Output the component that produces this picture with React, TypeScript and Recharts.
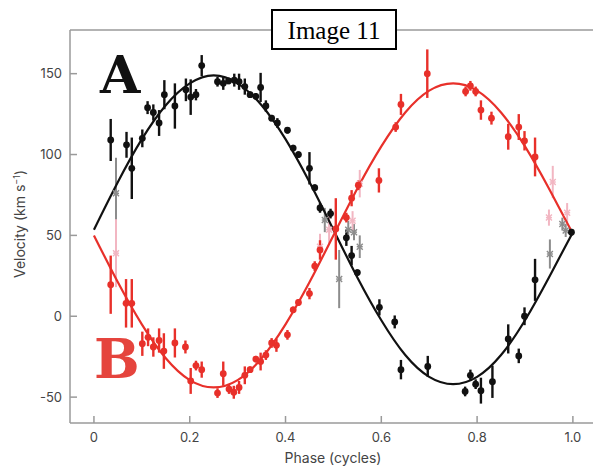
import React from "react";
import {
  ComposedChart,
  Line,
  Scatter,
  ErrorBar,
  XAxis,
  YAxis,
  ReferenceLine,
} from "recharts";

// fitted curves, every 0.05 in phase
const curvePhase = [
  0, 0.05, 0.1, 0.15, 0.2, 0.25, 0.3, 0.35, 0.4, 0.45, 0.5, 0.55, 0.6, 0.65,
  0.7, 0.75, 0.8, 0.85, 0.9, 0.95, 1.0,
];
const curveA = [
  53.5, 83, 109.5, 130.5, 144, 149, 144, 130.5, 109.5, 83, 53.5, 24, -2.5,
  -24, -37.5, -42, -37.5, -24, -2.5, 24, 52,
];
const curveB = [
  50, 21, -5, -26, -39.5, -44, -39.5, -26, -5, 21, 50, 79, 105, 126, 139.5,
  144, 139.5, 126, 105, 79, 51,
];

// measured points: [phase, velocity, error]
const pointsA = [
  [0.035, 109, 13], [0.068, 106, 8], [0.079, 91.5, 19], [0.101, 110, 5.5],
  [0.112, 129, 4], [0.124, 126, 5], [0.136, 119.5, 8], [0.147, 137, 9],
  [0.169, 130, 14], [0.192, 140, 7], [0.202, 135.5, 11], [0.213, 137, 3.5],
  [0.225, 155, 6.5], [0.258, 145, 3], [0.27, 144, 4], [0.281, 145.5, 2],
  [0.293, 146, 4], [0.303, 145, 5], [0.315, 142, 5], [0.326, 137, 2],
  [0.338, 136, 2], [0.348, 141.5, 9], [0.359, 130, 3.5], [0.371, 122.5, 2],
  [0.383, 119.5, 3], [0.404, 115, 2], [0.416, 104, 2], [0.427, 100, 2],
  [0.45, 91.5, 10], [0.461, 79.5, 2], [0.472, 67, 3], [0.494, 63.5, 3],
  [0.527, 48.5, 5], [0.538, 37.5, 6], [0.55, 27, 2], [0.596, 5.5, 5],
  [0.628, -3.5, 4], [0.641, -33, 6], [0.697, -31, 6.5], [0.775, -46.5, 3],
  [0.786, -36.5, 3.5], [0.797, -42, 3], [0.808, -46, 8], [0.832, -40.5, 10],
  [0.865, -14, 9], [0.887, -24.5, 4.5], [0.899, 0, 5.5], [0.921, 22.5, 13],
  [0.997, 52, 2],
];
const pointsB = [
  [0.035, 19.5, 18], [0.067, 8, 15], [0.079, 8, 15], [0.101, -17, 7.5],
  [0.113, -13, 5.5], [0.124, -19, 6], [0.136, -15, 7.5], [0.146, -21.5, 11],
  [0.169, -16.5, 9], [0.191, -19, 4], [0.202, -40, 8], [0.213, -30.5, 3],
  [0.225, -33, 5], [0.258, -47.5, 3], [0.27, -35.5, 7.5], [0.282, -45, 3],
  [0.292, -47, 4], [0.303, -44, 4], [0.315, -36.5, 5.5], [0.326, -33, 2],
  [0.338, -26.5, 2], [0.348, -28, 5.5], [0.359, -24, 3], [0.371, -16.5, 3],
  [0.381, -18, 4], [0.404, -11.5, 3], [0.416, 4, 2], [0.427, 8.5, 2],
  [0.45, 14, 3.5], [0.461, 31, 3], [0.472, 41, 6], [0.505, 54, 19],
  [0.527, 61, 3], [0.538, 73, 5], [0.552, 81, 3], [0.595, 84, 7.5],
  [0.63, 117, 3], [0.641, 131, 6.5], [0.696, 150, 15], [0.776, 139, 3],
  [0.786, 142.5, 3], [0.797, 139, 3], [0.808, 127.5, 6], [0.83, 122.5, 4],
  [0.865, 111, 8], [0.887, 117, 8], [0.899, 108.5, 6], [0.921, 98.5, 12],
];
const pointsGray = [
  [0.046, 76, 22], [0.482, 59.5, 7.5], [0.512, 23, 18], [0.531, 53.5, 5.5],
  [0.543, 52, 5], [0.555, 43, 7], [0.952, 38.5, 9], [0.978, 57, 4],
  [0.985, 53, 4],
];
const pointsPink = [
  [0.046, 39, 21], [0.472, 43, 8], [0.491, 53.5, 8.5], [0.54, 59, 6],
  [0.555, 82, 8.5], [0.95, 61, 5], [0.958, 83, 10], [0.988, 64, 6],
];

const xTicks = [0, 0.2, 0.4, 0.6, 0.8, 1.0];
const yTicks = [-50, 0, 50, 100, 150];

const W = 595;
const H = 470;
const X_DOMAIN = [-0.05, 1.042];
const Y_DOMAIN = [-66, 177];

const BLACK = "#111111";
const RED = "#e8302a";
const GRAY = "#8c8c8c";
const PINK = "#f2b6c2";
const AXIS = "#9a9a9a";
const FONT = "Inter, 'Noto Sans', sans-serif";

const toCurve = (ys: number[]) => curvePhase.map((x, i) => ({ x, y: ys[i] }));
const toPts = (rows: number[][]) => rows.map(([x, y, e]) => ({ x, y, e }));

const dot = (color: string) => (p: any) =>
  <circle cx={p.cx} cy={p.cy} r={3.4} fill={color} />;

const cross = (color: string) => (p: any) => (
  <g stroke={color} strokeWidth={1.4}>
    <line x1={p.cx - 3} x2={p.cx + 3} y1={p.cy - 3} y2={p.cy + 3} />
    <line x1={p.cx - 3} x2={p.cx + 3} y1={p.cy + 3} y2={p.cy - 3} />
    <line x1={p.cx - 3} x2={p.cx + 3} y1={p.cy} y2={p.cy} />
  </g>
);

const YTick = (p: any) => {
  const ax = p.x + 8;
  return (
    <g>
      <line x1={ax} x2={ax + 7} y1={p.y} y2={p.y} stroke={AXIS} strokeWidth={1.5} />
      <text x={p.x} y={p.y} dy={4.5} textAnchor="end" fontSize={13} fill="#444" fontFamily={FONT}>
        {p.payload.value}
      </text>
    </g>
  );
};

const XTick = (p: any) => {
  const v = p.payload.value;
  return (
    <g>
      <line x1={p.x} x2={p.x} y1={p.y} y2={p.y - 7} stroke={AXIS} strokeWidth={1.5} />
      <text x={p.x} y={p.y + 19} textAnchor="middle" fontSize={13} fill="#444" fontFamily={FONT}>
        {v === 0 ? "0" : v.toFixed(1)}
      </text>
    </g>
  );
};

export default function App() {
  return (
    <div style={{ position: "absolute", left: 0, top: 0, width: W, height: H, background: "#fff", overflow: "hidden" }}>
      <ComposedChart width={W} height={H} margin={{ top: 30, right: 2, bottom: 0, left: 0 }}>
        <XAxis
          type="number"
          dataKey="x"
          domain={X_DOMAIN}
          ticks={xTicks}
          allowDataOverflow
          height={47}
          tickSize={0}
          tickMargin={0}
          tickLine={false}
          axisLine={{ stroke: AXIS, strokeWidth: 1.5 }}
          tick={<XTick />}
        />
        <YAxis
          type="number"
          dataKey="y"
          domain={Y_DOMAIN}
          ticks={yTicks}
          allowDataOverflow
          width={70}
          tickSize={0}
          tickMargin={8}
          tickLine={false}
          axisLine={{ stroke: AXIS, strokeWidth: 1.5 }}
          tick={<YTick />}
        />
        <ReferenceLine y={Y_DOMAIN[1]} stroke={AXIS} strokeWidth={1.5} />

        <Scatter data={toPts(pointsGray)} shape={cross(GRAY)} isAnimationActive={false}>
          <ErrorBar dataKey="e" direction="y" width={0} stroke={GRAY} strokeWidth={2} />
        </Scatter>
        <Scatter data={toPts(pointsPink)} shape={cross(PINK)} isAnimationActive={false}>
          <ErrorBar dataKey="e" direction="y" width={0} stroke={PINK} strokeWidth={2} />
        </Scatter>

        <Line data={toCurve(curveA)} dataKey="y" type="natural" stroke={BLACK} strokeWidth={2.2} dot={false} isAnimationActive={false} />
        <Line data={toCurve(curveB)} dataKey="y" type="natural" stroke={RED} strokeWidth={2.2} dot={false} isAnimationActive={false} />

        <Scatter data={toPts(pointsA)} shape={dot(BLACK)} isAnimationActive={false}>
          <ErrorBar dataKey="e" direction="y" width={0} stroke={BLACK} strokeWidth={2.4} />
        </Scatter>
        <Scatter data={toPts(pointsB)} shape={dot(RED)} isAnimationActive={false}>
          <ErrorBar dataKey="e" direction="y" width={0} stroke={RED} strokeWidth={2.4} />
        </Scatter>
      </ComposedChart>

      <svg width={W} height={H} style={{ position: "absolute", left: 0, top: 0, pointerEvents: "none" }}>
        <text x={100} y={93} fontFamily="'DejaVu Serif', serif" fontWeight="bold" fontSize={52} fill={BLACK}>
          A
        </text>
        <text x={94} y={378} fontFamily="'DejaVu Serif', serif" fontWeight="bold" fontSize={54} fill="#e5443d">
          B
        </text>
        <rect x={272} y={10} width={124} height={39} fill="#fff" stroke="#000" strokeWidth={2} />
        <text x={334} y={38.5} textAnchor="middle" fontFamily="'Liberation Serif', serif" fontSize={25} fill="#000">
          Image 11
        </text>
        <text x={333} y={463} textAnchor="middle" fontFamily={FONT} fontSize={14} fill="#444">
          Phase (cycles)
        </text>
        <text transform="translate(25, 224) rotate(-90)" textAnchor="middle" fontFamily={FONT} fontSize={14} fill="#444">
          Velocity (km s
          <tspan dy={-5} fontSize={9}>−1</tspan>
          <tspan dy={5}>)</tspan>
        </text>
      </svg>
    </div>
  );
}
